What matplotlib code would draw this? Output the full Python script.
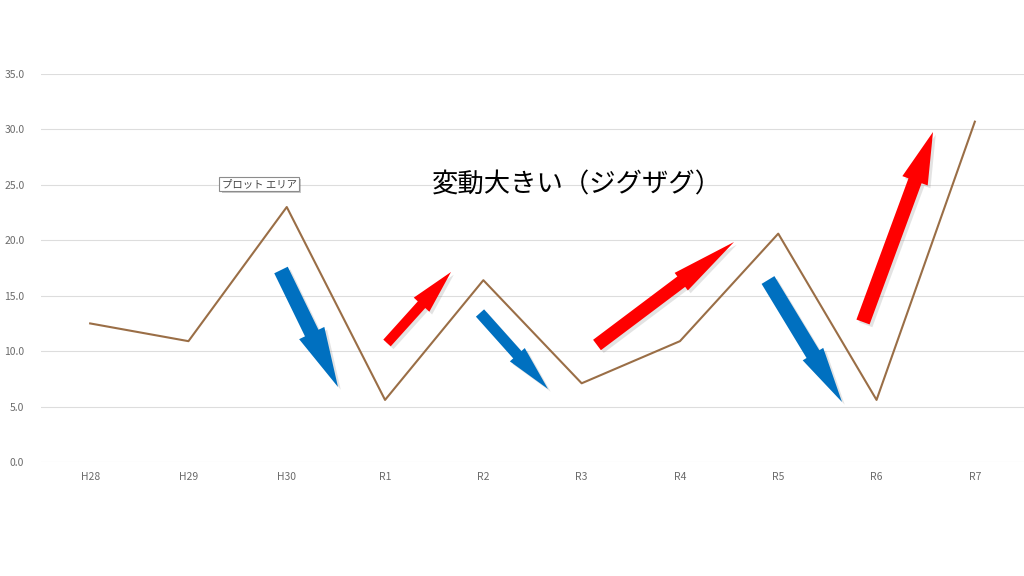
import matplotlib
matplotlib.use("Agg")
import matplotlib.pyplot as plt
from matplotlib.patches import FancyArrow
from matplotlib.transforms import Affine2D
import matplotlib.patheffects as pe

plt.rcParams['font.family'] = ['Noto Sans CJK JP', 'DejaVu Sans']

categories = ["H28", "H29", "H30", "R1", "R2", "R3", "R4", "R5", "R6", "R7"]
values = [12.5, 10.9, 23.0, 5.6, 16.4, 7.1, 10.9, 20.6, 5.6, 30.7]
yticks = [0, 5, 10, 15, 20, 25, 30, 35]
title_text = "変動大きい（ジグザグ）"
tooltip_text = "プロット エリア"

# decorative arrows (pixel coords, origin top-left): tail, tip, width, head width, head length, color
arrows = [
    ((281, 270), (338, 387), 15, 28, 60, "#0070C0"),
    ((387, 343), (451, 272), 10, 21, 44, "#FF0000"),
    ((480, 313), (548, 389), 11, 20, 46, "#0070C0"),
    ((597, 345), (734, 242), 13, 22, 66, "#FF0000"),
    ((768, 280), (842, 402), 15, 24, 56, "#0070C0"),
    ((863, 322), (933, 132), 14, 27, 52, "#FF0000"),
]

W, H = 1024, 576
fig = plt.figure(figsize=(W / 100, H / 100), dpi=100)
ax = fig.add_axes([41 / W, 1 - 462 / H, (1024 - 41) / W, (462 - 74) / H])

x = list(range(len(categories)))
ax.plot(x, values, color="#9A6E46", linewidth=1.5, zorder=3)
ax.set_xlim(-0.5, len(categories) - 0.5)
ax.set_ylim(0, 35)
ax.set_yticks(yticks)
ax.set_yticklabels([f"{v:.1f}" for v in yticks])
ax.set_xticks(x)
ax.set_xticklabels(categories)
ax.grid(axis="y", color="#DDDDDD", linewidth=0.8)
ax.set_axisbelow(True)
for s in ax.spines.values():
    s.set_visible(False)
ax.tick_params(axis="both", length=0, labelsize=7.5, labelcolor="#6B6B6B")
ax.tick_params(axis="y", pad=12)
ax.tick_params(axis="x", pad=7)

pix = Affine2D().scale(1 / W, -1 / H).translate(0, 1) + fig.transFigure

for (tx, ty), (hx, hy), w, hw, hl, col in arrows:
    a = FancyArrow(tx, ty, hx - tx, hy - ty, width=w, head_width=hw,
                   head_length=hl, length_includes_head=True,
                   transform=pix, color=col, linewidth=0, zorder=5)
    a.set_path_effects([pe.SimplePatchShadow(offset=(2, -2), alpha=0.2, shadow_rgbFace="#777777"),
                        pe.Normal()])
    fig.add_artist(a)

fig.text(577 / W, 1 - 185 / H, title_text, fontsize=19, ha="center", va="center",
         color="#000000")

t = fig.text(259 / W, 1 - 184 / H, tooltip_text, fontsize=7.5, ha="center", va="center",
             color="#444444",
             bbox=dict(boxstyle="square,pad=0.2", facecolor="white", edgecolor="#8C8C8C",
                       linewidth=0.8))
t.get_bbox_patch().set_path_effects([pe.SimplePatchShadow(offset=(1.5, -1.5), alpha=0.3),
                                     pe.Normal()])

fig.savefig("out.png", dpi=100)
